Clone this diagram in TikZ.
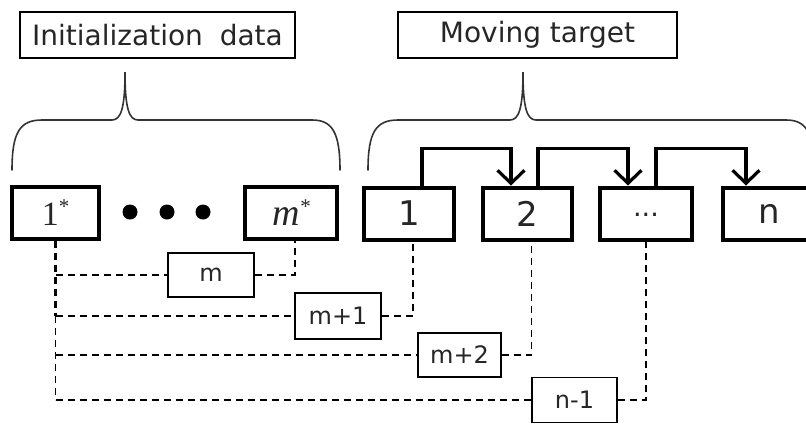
\documentclass[tikz,border=0pt]{standalone}
\usepackage{fontspec}
\setmainfont{DejaVu Sans}
\newfontfamily\cellserif{Liberation Serif}
\usetikzlibrary{arrows.meta}
\newcommand{\starmark}{\raisebox{12pt}{\fontsize{21}{21}\selectfont *}}
\begin{document}
\begin{tikzpicture}[x=1pt,y=-1pt,
  title/.style={draw,line width=1.5pt,inner sep=0pt,minimum height=46pt,
    font=\fontsize{28}{30}\selectfont,text=black!85},
  cell/.style={draw,line width=4pt,inner sep=0pt,minimum height=52pt,
    font=\fontsize{34}{36}\selectfont,text=black!85},
  tag/.style={draw,line width=1.5pt,inner sep=0pt,minimum height=45pt,
    font=\fontsize{24}{26}\selectfont,text=black!85},
  brace/.style={line width=1.6pt,black!80,line cap=round},
  flow/.style={line width=3.2pt,-{Straight Barb[length=13pt,width=27pt,line width=3.2pt]}},
  bus/.style={line width=1.6pt,dash pattern=on 7pt off 5pt},
  dot/.style={circle,fill,inner sep=0pt,minimum size=15pt}]
\clip (0,0) rectangle (806,424);

% group titles
\node[title,minimum width=275pt] (tinit) at (157.5,35) {Initialization\hspace{0.6em}data};
\node[title,minimum width=279pt] (tmove) at (537.5,35) {Moving target};

% curly braces under the titles
\draw[brace] (12,170) .. controls (12,132) and (20,120) .. (42,120)
  -- (112,120) .. controls (121,120) and (125,108) .. (125,72)
  .. controls (125,108) and (129,120) .. (138,120)
  -- (312,120) .. controls (332,120) and (340,132) .. (340,170);
\draw[brace] (368,170) .. controls (368,132) and (376,120) .. (398,120)
  -- (510,120) .. controls (519,120) and (523,108) .. (523,72)
  .. controls (523,108) and (527,120) .. (536,120)
  -- (786,120) .. controls (806,120) and (814,132) .. (814,170);

% initialization cells
\node[cell,minimum width=87pt,font=\cellserif\fontsize{34}{36}\selectfont] (c1s) at (55.5,212.5) {1\starmark};
\node[cell,minimum width=92pt,font=\cellserif\itshape\fontsize{38}{40}\selectfont] (cms) at (291,212.5) {m\starmark};
\node[dot] (d1) at (130,212) {};
\node[dot] (d2) at (167,212) {};
\node[dot] (d3) at (203,212) {};

% moving target cells
\node[cell,minimum width=90pt] (c1) at (409,213.5) {1};
\node[cell,minimum width=89pt] (c2) at (527.5,213.5) {2};
\node[cell,minimum width=92pt,font=\fontsize{27}{28}\selectfont] (cd) at (646,213.5) {\raisebox{-6pt}{...}};
\node[cell,minimum width=92pt] (cn) at (769,213.5) {n};

% shifts of the moving target
\draw[flow] ([xshift=60pt]c1.north west) -- ++(0,-37) -| ([xshift=30pt]c2.north west);
\draw[flow] ([xshift=57pt]c2.north west) -- ++(0,-37) -| ([xshift=30pt]cd.north west);
\draw[flow] ([xshift=58pt]cd.north west) -- ++(0,-37) -| ([xshift=25pt]cn.north west);

% distance tags
\node[tag,minimum width=86pt,minimum height=44pt] (lm)  at (211,275) {m};
\node[tag,minimum width=86pt,minimum height=46pt] (lm1) at (338,316) {m+1};
\node[tag,minimum width=83pt,minimum height=44pt] (lm2) at (459.5,355) {m+2};
\node[tag,minimum width=85pt] (ln1) at (574.5,400) {n-1};

% dashed links from 1* to the later cells
\coordinate (bend) at (c1s.south |- ln1);
\draw[bus,line width=3pt] (c1s.south) -- (c1s.south |- lm1);
\draw[bus] (c1s.south |- lm1) -- (bend);
\draw[bus] (c1s.south |- lm) -- (lm.west);
\draw[bus] (lm.east) -| ([xshift=4pt]cms.south);
\draw[bus] (c1s.south |- lm1) -- (lm1.west);
\draw[bus] (lm1.east) -| ([xshift=4pt]c1.south);
\draw[bus] (c1s.south |- lm2) -- (lm2.west);
\draw[bus] (lm2.east) -| ([xshift=4pt]c2.south);
\draw[bus] (bend) -- (ln1.west);
\draw[bus] (ln1.east) -| (cd.south);
\end{tikzpicture}
\end{document}
